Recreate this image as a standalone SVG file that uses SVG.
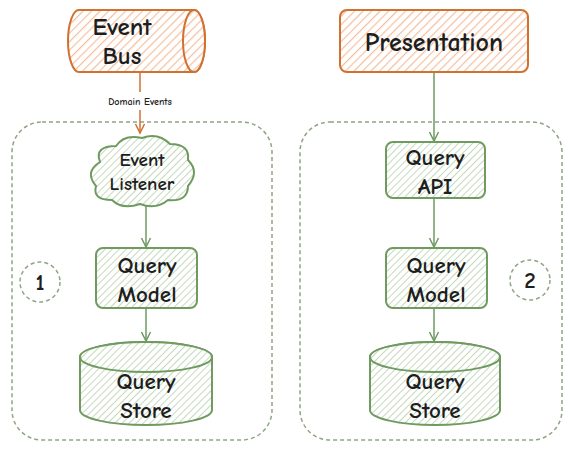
<svg xmlns="http://www.w3.org/2000/svg" width="571" height="452" viewBox="0 0 571 452">
<defs>
<pattern id="hO" width="6" height="6" patternUnits="userSpaceOnUse" patternTransform="rotate(45)">
<rect width="6" height="6" fill="#fff"/>
<line x1="0" y1="0" x2="0" y2="6" stroke="#f4c0a0" stroke-width="2.4"/>
</pattern>
<pattern id="hG" width="5" height="5" patternUnits="userSpaceOnUse" patternTransform="rotate(45)">
<rect width="5" height="5" fill="#fff"/>
<line x1="0" y1="0" x2="0" y2="5" stroke="#c5d9bc" stroke-width="2"/>
</pattern>
<marker id="aG" markerWidth="12" markerHeight="12" refX="10" refY="6" orient="auto" markerUnits="userSpaceOnUse">
<polyline points="1,1.5 10,6 1,10.5" fill="none" stroke="#6f9a60" stroke-width="1.5"/>
</marker>
<marker id="aO" markerWidth="12" markerHeight="12" refX="10" refY="6" orient="auto" markerUnits="userSpaceOnUse">
<polyline points="1,1.5 10,6 1,10.5" fill="none" stroke="#d2702f" stroke-width="1.5"/>
</marker>
</defs>
<style>
text{font-family:"Comic Neue","Liberation Sans",Arial,sans-serif;fill:#1e1e1e;text-anchor:middle;font-weight:bold}
.lbl{font-size:23px}
.o{fill:url(#hO);stroke:#d2702f;stroke-width:2}
.g{fill:url(#hG);stroke:#6f9a60;stroke-width:2}
.cont{fill:none;stroke:#8fa584;stroke-width:1.5;stroke-dasharray:4 3}
.cg{fill:none;stroke:#6f9a60;stroke-width:1.5}
.co{fill:none;stroke:#d2702f;stroke-width:1.5}
</style>
<g id="containers">
<rect id="group1" class="cont" x="12" y="122" width="260" height="318" rx="30"/>
<rect id="group2" class="cont" x="300" y="122" width="262" height="318" rx="30"/>
</g>
<g id="connectors">
<line class="co" x1="140" y1="72" x2="140" y2="92"/>
<line class="co" x1="140" y1="110" x2="140" y2="133" marker-end="url(#aO)"/>
<line class="cg" x1="146" y1="206" x2="146" y2="247" marker-end="url(#aG)"/>
<line class="cg" x1="146" y1="308" x2="146" y2="341" marker-end="url(#aG)"/>
<line class="cg" x1="434" y1="72" x2="434" y2="141" marker-end="url(#aG)"/>
<line class="cg" x1="434" y1="198" x2="434" y2="247" marker-end="url(#aG)"/>
<line class="cg" x1="434" y1="308" x2="434" y2="341" marker-end="url(#aG)"/>
<text x="140" y="105" style="font-size:10px">Domain Events</text>
</g>
<g id="eventbus">
<path class="o" d="M79,10 L194,10 A11,31 0 0 1 194,72 L79,72 A11,31 0 0 1 79,10 Z"/>
<ellipse class="o" cx="194" cy="41" rx="11" ry="31"/>
<text class="lbl" x="122" y="35" style="font-size:25px">Event</text>
<text class="lbl" x="122" y="64" style="font-size:25px">Bus</text>
</g>
<g id="presentation">
<rect class="o" x="340" y="10" width="188" height="62" rx="7"/>
<text class="lbl" x="434" y="51" style="font-size:26px">Presentation</text>
</g>
<g id="eventlistener">
<path class="g" d="M100,162 Q94,146 116,146 Q124,134 142,138 Q158,132 170,144 Q190,144 188,160 Q200,172 188,186 Q188,202 168,200 Q156,210 140,204 Q122,210 112,200 Q92,200 96,186 Q84,172 100,162 Z"/>
<text x="142" y="166" style="font-size:19px">Event</text>
<text x="142" y="190" style="font-size:19px">Listener</text>
</g>
<g id="querymodel1">
<rect class="g" x="96" y="248" width="101" height="60" rx="7"/>
<text class="lbl" x="147" y="273">Query</text>
<text class="lbl" x="147" y="302">Model</text>
</g>
<g id="querystore1">
<path class="g" d="M80,357 L80,410 A66,15 0 0 0 212,410 L212,357 A66,15 0 0 0 80,357 Z"/>
<ellipse class="g" cx="146" cy="357" rx="66" ry="15"/>
<text class="lbl" x="146" y="389">Query</text>
<text class="lbl" x="146" y="418">Store</text>
</g>
<g id="badge1">
<circle class="cont" cx="40" cy="282" r="20"/>
<text class="lbl" x="40" y="290">1</text>
</g>
<g id="queryapi">
<rect class="g" x="386" y="142" width="99" height="56" rx="7"/>
<text class="lbl" x="435" y="165">Query</text>
<text class="lbl" x="435" y="194">API</text>
</g>
<g id="querymodel2">
<rect class="g" x="386" y="248" width="101" height="60" rx="7"/>
<text class="lbl" x="436" y="273">Query</text>
<text class="lbl" x="436" y="302">Model</text>
</g>
<g id="querystore2">
<path class="g" d="M370,357 L370,410 A65,15 0 0 0 500,410 L500,357 A65,15 0 0 0 370,357 Z"/>
<ellipse class="g" cx="435" cy="357" rx="65" ry="15"/>
<text class="lbl" x="435" y="389">Query</text>
<text class="lbl" x="435" y="418">Store</text>
</g>
<g id="badge2">
<circle class="cont" cx="530" cy="280" r="20"/>
<text class="lbl" x="530" y="288">2</text>
</g>
</svg>
